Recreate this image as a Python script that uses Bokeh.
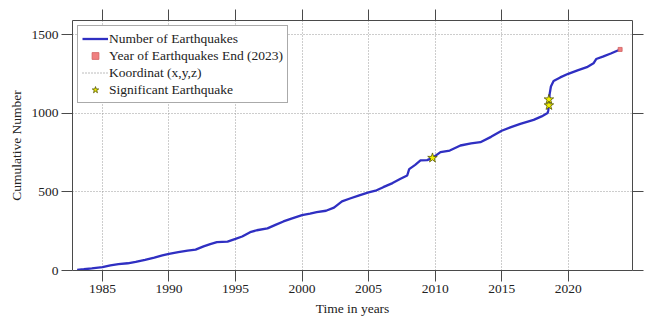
from bokeh.plotting import figure
from bokeh.models import (Range1d, LinearAxis, SingleIntervalTicker, Legend,
                          LegendItem, ColumnDataSource, CustomLabelingPolicy)
from bokeh.embed import file_html
from bokeh.resources import INLINE

# Cumulative count of earthquakes over time
years = [1983.1, 1983.6, 1984.2, 1985.0, 1985.6, 1986.2, 1986.9, 1987.5, 1988.2,
         1988.9, 1989.5, 1990.0, 1990.7, 1991.4, 1992.0, 1992.6, 1993.1, 1993.6,
         1994.4, 1995.0, 1995.5, 1996.1, 1996.6, 1997.4, 1998.0, 1998.6, 1999.2,
         2000.0, 2000.6, 2001.1, 2001.8, 2002.4, 2003.0, 2003.6, 2004.3, 2005.0,
         2005.6, 2006.1, 2006.8, 2007.4, 2007.9, 2008.05, 2008.5, 2008.9, 2009.4,
         2009.8, 2010.4, 2011.1, 2011.9, 2012.7, 2013.4, 2014.2, 2015.0, 2015.7,
         2016.4, 2017.4, 2018.0, 2018.45, 2018.5, 2018.55, 2018.6, 2018.7, 2018.9,
         2019.4, 2020.0, 2020.7, 2021.4, 2021.9, 2022.1, 2022.6, 2023.2, 2023.9]
counts = [4, 8, 13, 21, 33, 40, 46, 55, 68, 82, 96, 106, 117, 127, 133, 153, 168,
          180, 184, 201, 216, 244, 256, 268, 290, 312, 330, 352, 362, 371, 380, 400,
          440, 458, 478, 497, 510, 530, 556, 583, 604, 645, 672, 700, 702, 716, 753,
          763, 795, 808, 816, 850, 889, 912, 933, 958, 980, 1001, 1018, 1060, 1120,
          1170, 1205, 1228, 1251, 1273, 1293, 1318, 1345, 1360, 1380, 1406]

# Last recorded event (2023)
end_year = [2023.9]
end_count = [1406]

# Significant earthquakes on the cumulative curve
sig_years = [2009.8, 2018.55, 2018.55]
sig_counts = [716, 1050, 1088]

x_tick_step = 5
y_tick_step = 500

FONT = "'Liberation Serif', 'Times New Roman', Times, serif"
AXIS_COLOR = "#4a4a4a"
TEXT_COLOR = "#222222"

p = figure(width=661, height=320, output_backend="svg", toolbar_location=None,
           x_range=Range1d(1982.75, 2024.83), y_range=Range1d(0, 1590),
           x_axis_location=None, y_axis_location=None,
           min_border_left=72, min_border_right=29, min_border_top=20,
           min_border_bottom=50)
p.outline_line_color = None
p.background_fill_color = "white"
p.border_fill_color = "white"

xt = SingleIntervalTicker(interval=x_tick_step)
yt = SingleIntervalTicker(interval=y_tick_step)

# top/right axes carry ticks only: drop every label
no_labels = CustomLabelingPolicy(
    code="const ids = [...indices]; for (const i of ids) indices.unset(i); return indices")


def make_axis(ticker, show_labels, label=None):
    ax = LinearAxis(ticker=ticker)
    ax.axis_line_color = AXIS_COLOR
    ax.axis_line_width = 1
    ax.major_tick_line_color = AXIS_COLOR
    ax.major_tick_out = 11
    ax.major_tick_in = 0
    ax.minor_tick_out = 0
    ax.minor_tick_in = 0
    ax.major_label_text_font = FONT
    ax.major_label_text_color = TEXT_COLOR
    if show_labels:
        ax.major_label_text_font_size = "13.5px"
        ax.major_label_standoff = 3
    else:
        ax.major_label_text_font_size = "0px"
        ax.major_label_policy = no_labels
        ax.major_label_standoff = 0
    if label:
        ax.axis_label = label
        ax.axis_label_text_font = FONT
        ax.axis_label_text_font_size = "13.5px"
        ax.axis_label_text_font_style = "normal"
        ax.axis_label_text_color = TEXT_COLOR
        ax.axis_label_standoff = 5
    return ax


p.add_layout(make_axis(xt, True, "Time in years"), "below")
p.add_layout(make_axis(yt, True, "Cumulative Number"), "left")
p.add_layout(make_axis(xt, False), "above")
p.add_layout(make_axis(yt, False), "right")

p.xgrid.ticker = xt
p.ygrid.ticker = yt
for g in (p.xgrid, p.ygrid):
    g.grid_line_color = "#9a9a9a"
    g.grid_line_dash = "1 2"
    g.grid_line_width = 1

src = ColumnDataSource(dict(x=years, y=counts))
r_line = p.line("x", "y", source=src, line_color="#2f2fc2", line_width=2.3)

r_end = p.scatter(end_year, end_count, marker="square", size=4,
                  fill_color="#f08080", line_color="#d06060", line_width=0.8)

# coordinate reference line: legend entry only
r_coord = p.line([float("nan")], [float("nan")], line_color="#7a7a7a",
                 line_dash="1 2", line_width=1)

r_sig = p.scatter(sig_years, sig_counts, marker="star", size=10,
                  fill_color="#f2f200", line_color="#555500", line_width=0.8)

legend = Legend(items=[
    LegendItem(label="Number of Earthquakes", renderers=[r_line]),
    LegendItem(label="Year of Earthquakes End (2023)", renderers=[r_end]),
    LegendItem(label="Koordinat (x,y,z)", renderers=[r_coord]),
    LegendItem(label="Significant Earthquake", renderers=[r_sig]),
], location="top_left")
legend.margin = 5
legend.padding = 4
legend.spacing = 0
legend.glyph_width = 26
legend.glyph_height = 17
legend.label_height = 17
legend.label_standoff = 1
legend.label_text_font = FONT
legend.label_text_font_size = "13.5px"
legend.label_text_color = TEXT_COLOR
legend.border_line_color = "#555555"
legend.border_line_width = 1
legend.background_fill_color = "white"
legend.background_fill_alpha = 1.0
p.add_layout(legend, "center")

open("out.html", "w").write(file_html(p, INLINE))
